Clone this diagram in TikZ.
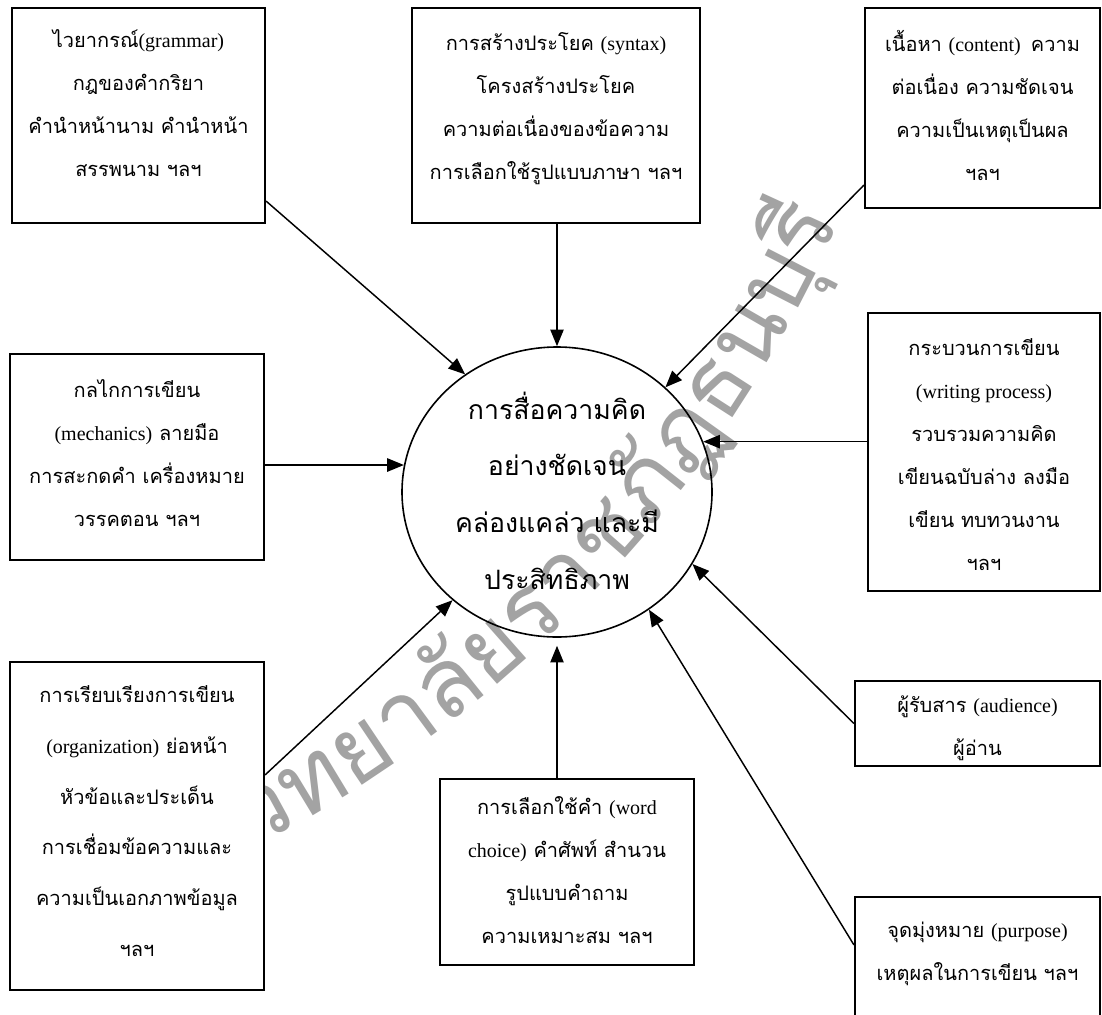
\documentclass[tikz,border=0pt]{standalone}
\usepackage{fontspec}
\setmainfont{Liberation Serif}
\newfontfamily\thai[Script=Thai]{Loma}
\newfontfamily\enf{Liberation Serif}
\newcommand\ENG[1]{{\enf\fontsize{15}{32.25}\selectfont #1}}
\newcommand\fl{\rule{0pt}{20pt}}
\newcommand\wmfont{\thai\fontsize{72}{72}\selectfont}
\newdimen\wmpos
\newcount\wmcnt
\newbox\wmbox
\newcommand\wmmeasure[1]{%
  \global\advance\wmcnt by 1
  \setbox\wmbox=\hbox{\wmfont #1}%
  \expandafter\xdef\csname wmS\the\wmcnt\endcsname{\the\dimexpr\wmpos+\wd\wmbox/2\relax}%
  \global\advance\wmpos by \wd\wmbox}
\AtBeginDocument{\global\wmpos=0pt \global\wmcnt=0
  \wmmeasure{วิ}\wmmeasure{ท}\wmmeasure{ย}\wmmeasure{า}\wmmeasure{ลั}%
  \wmmeasure{ย}\wmmeasure{ร}\wmmeasure{า}\wmmeasure{ช}\wmmeasure{ภั}%
  \wmmeasure{ฏ}\wmmeasure{ธ}\wmmeasure{น}\wmmeasure{บุ}\wmmeasure{รี}}
\usetikzlibrary{arrows.meta,shapes.geometric,fit,calc}
\begin{document}
\begin{tikzpicture}[x=0.75pt,y=-0.75pt,
  box/.style={draw,line width=1.6pt,fill=white,inner sep=0pt,rectangle},
  txt/.style={anchor=north,inner sep=0pt,align=center,font=\thai\fontsize{15}{32.25}\selectfont},
  ctxt/.style={anchor=north,inner sep=0pt,align=center,font=\thai\fontsize{20}{42.5}\selectfont},
  arr/.style={line width=1.1pt,-{Triangle[length=12.5pt,width=10pt]}},
  wglyph/.style={inner sep=0pt,anchor=base,text=black!36,font=\wmfont},
]
\clip (0,0) rectangle (1102,1014);
\fill[white] (0,0) rectangle (1102,1014);
% watermark, set along a wide arc
\coordinate (wmc) at (-339,-293);
\def\wmR{1286}
\def\wmstart{62.6}
\foreach \g [count=\i] in {วิ,ท,ย,า,ลั,ย,ร,า,ช,ภั,ฏ,ธ,น,บุ,รี}{
  \pgfmathsetmacro\wmang{\wmstart-(\csname wmS\i\endcsname)/0.75/\wmR*57.29578}
  \node (wg\i) [wglyph, rotate=90-\wmang] at ($(wmc)+(\wmang:\wmR)$) {\g};
}
% boxes
\node (b1) [box, fit={(12,8) (265,223)}] {};
\node (b2) [box, fit={(412,8) (700,223)}] {};
\node (b3) [box, fit={(865,8) (1100,208)}] {};
\node (b4) [box, fit={(10,354) (264,560)}] {};
\node (b5) [box, fit={(868,313) (1100,591)}] {};
\node (b6) [box, fit={(855,681) (1100,766)}] {};
\node (b7) [box, fit={(10,662) (264,990)}] {};
\node (b8) [box, fit={(440,779) (694,965)}] {};
\node (b9) [box, fit={(855,897) (1100,1030)}] {};
% circle
\node (c) [ellipse, draw, line width=1.2pt, inner sep=0pt, minimum width=232.5pt, minimum height=217.5pt] at (557,492) {};
% texts
\node (t1) [txt] at (138.5,21) {\fl ไวยากรณ์\ENG{(grammar)}\\ กฎของคำกริยา\\ คำนำหน้านาม คำนำหน้า\\ สรรพนาม ฯลฯ};
\node (t2) [txt] at (556,24) {\fl การสร้างประโยค \ENG{(syntax)}\\ โครงสร้างประโยค\\ ความต่อเนื่องของข้อความ\\ การเลือกใช้รูปแบบภาษา ฯลฯ};
\node (t3) [txt] at (982.5,25) {\fl เนื้อหา \ENG{(content)}\, ความ\\ ต่อเนื่อง ความชัดเจน\\ ความเป็นเหตุเป็นผล\\ ฯลฯ};
\node (t4) [txt] at (137,371) {\fl กลไกการเขียน\\ \ENG{(mechanics)} ลายมือ\\ การสะกดคำ เครื่องหมาย\\ วรรคตอน ฯลฯ};
\node (t5) [txt] at (984,329) {\fl กระบวนการเขียน\\ \ENG{(writing process)}\\ รวบรวมความคิด\\ เขียนฉบับล่าง ลงมือ\\ เขียน ทบทวนงาน\\ ฯลฯ};
\node (t6) [txt] at (977.5,686) {\fl ผู้รับสาร \ENG{(audience)}\\ ผู้อ่าน};
\node (t7) [txt, font=\thai\fontsize{15}{38}\selectfont] at (137,676) {\fl การเรียบเรียงการเขียน\\ \ENG{(organization)} ย่อหน้า\\ หัวข้อและประเด็น\\ การเชื่อมข้อความและ\\ ความเป็นเอกภาพข้อมูล\\ ฯลฯ};
\node (t8) [txt] at (567,788) {\fl การเลือกใช้คำ \ENG{(word}\\ \ENG{choice)} คำศัพท์ สำนวน\\ รูปแบบคำถาม\\ ความเหมาะสม ฯลฯ};
\node (t9) [txt] at (977.5,911) {\fl จุดมุ่งหมาย \ENG{(purpose)}\\ เหตุผลในการเขียน ฯลฯ};
\node (tc) [ctxt] at (557,387) {\rule{0pt}{24pt}การสื่อความคิด\\ อย่างชัดเจน\\ คล่องแคล่ว และมี\\ ประสิทธิภาพ};
% connectors
\draw[arr] ($(b1.south east)+(0,-23)$) -- (c.128.4);
\draw[arr] (b2.south -| c.north) -- (c.north);
\draw[arr] ($(b3.south west)+(0,-24)$) -- (c.44.2);
\draw[arr] (b4.east |- c.170) -- (c.170);
\draw[arr] (b5.west |- c.19) -- (c.19);
\draw[arr] (b6.west) -- (c.-28.4);
\draw[arr] ($(b9.north west)+(0,49)$) -- (c.-52.7);
\draw[arr] (b8.north -| c.south) -- ($(c.south)+(0,8)$);
\draw[arr] ($(b7.north east)+(0,114)$) -- (c.226.3);
\end{tikzpicture}
\end{document}
